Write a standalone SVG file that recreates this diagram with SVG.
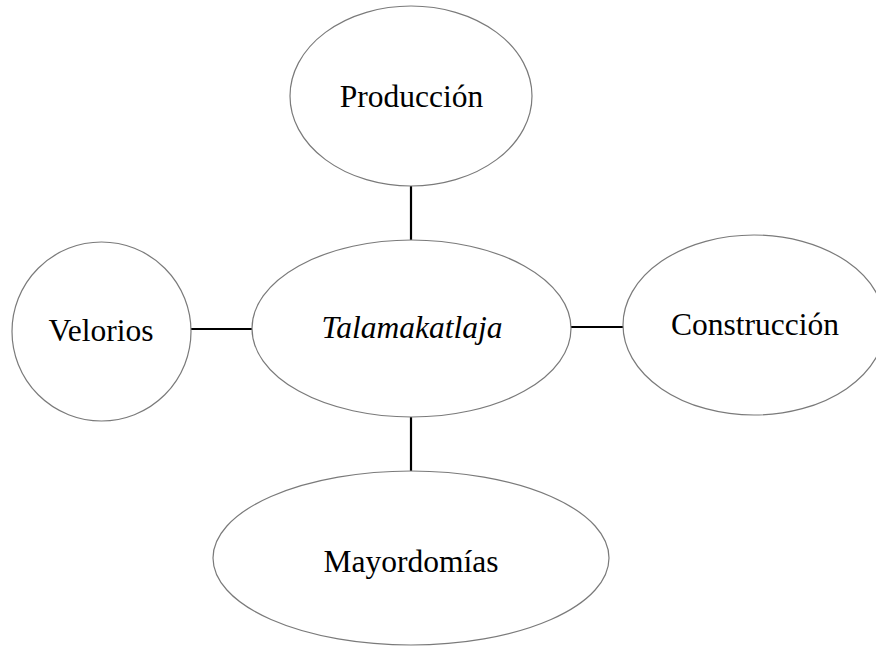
<svg xmlns="http://www.w3.org/2000/svg" width="876" height="648" viewBox="0 0 876 648">
<style>
.node{fill:#fff;stroke:#7a7a7a;stroke-width:1.2}
.lbl{font-family:"Liberation Serif","Times New Roman",serif;font-size:31.5px;fill:#000;text-anchor:middle}
.conn{stroke:#000;stroke-width:2.2;fill:none}
</style>
<rect width="876" height="648" fill="#fff"/>
<g id="connectors">
<line class="conn" x1="411" y1="186" x2="411" y2="240"/>
<line class="conn" x1="411" y1="417" x2="411" y2="471"/>
<line class="conn" x1="191" y1="329" x2="252" y2="329"/>
<line class="conn" x1="571" y1="327" x2="623" y2="327"/>
</g>
<g id="produccion">
<ellipse class="node" cx="411" cy="96" rx="121" ry="90"/>
<text class="lbl" x="411.5" y="107">Producción</text>
</g>
<g id="talamakatlaja">
<ellipse class="node" cx="411.5" cy="328.5" rx="159.5" ry="88.5"/>
<text class="lbl" x="412" y="338" font-style="italic">Talamakatlaja</text>
</g>
<g id="velorios">
<ellipse class="node" cx="101.5" cy="331.5" rx="89.5" ry="89.5"/>
<text class="lbl" x="101" y="341">Velorios</text>
</g>
<g id="construccion">
<ellipse class="node" cx="754" cy="325" rx="131" ry="90"/>
<text class="lbl" x="755" y="335">Construcción</text>
</g>
<g id="mayordomias">
<ellipse class="node" cx="411" cy="558" rx="198" ry="87"/>
<text class="lbl" x="411" y="572">Mayordomías</text>
</g>
</svg>
